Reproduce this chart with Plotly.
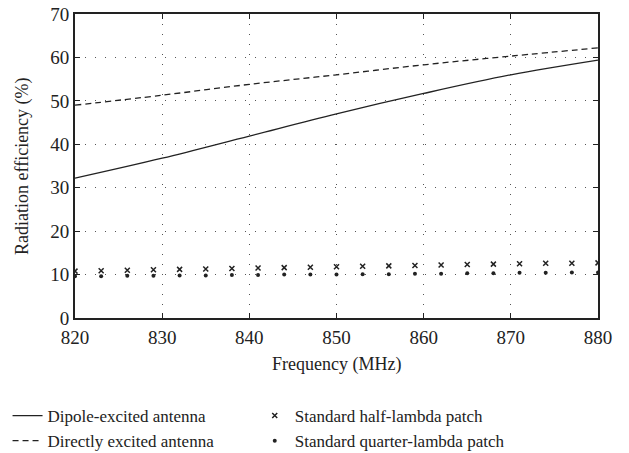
import plotly.graph_objects as go

freq_curve = [820, 830, 840, 850, 860, 870, 880]
dipole = [32.2, 36.8, 41.9, 47.0, 51.7, 56.0, 59.4]
direct = [49.0, 51.3, 53.8, 56.0, 58.3, 60.3, 62.2]

freq_pts = [820, 823, 826, 829, 832, 835, 838, 841, 844, 847, 850, 853, 856, 859, 862, 865, 868, 871, 874, 877, 880]
half = [10.8, 10.9, 11.0, 11.1, 11.2, 11.3, 11.4, 11.5, 11.6, 11.7, 11.8, 11.9, 12.0, 12.1, 12.2, 12.3, 12.4, 12.5, 12.6, 12.6, 12.7]
quarter = [9.6, 9.6, 9.7, 9.7, 9.8, 9.8, 9.9, 9.9, 10.0, 10.0, 10.0, 10.1, 10.1, 10.2, 10.2, 10.3, 10.3, 10.4, 10.4, 10.5, 10.5]

x_title = "Frequency (MHz)"
y_title = "Radiation efficiency (%)"

font = "Liberation Serif, DejaVu Serif, serif"
c = "#222222"

fig = go.Figure()
fig.add_trace(go.Scatter(x=freq_curve, y=dipole, mode="lines", line=dict(color=c, width=1.3, shape="spline"),
                         name="Dipole-excited antenna", legend="legend"))
fig.add_trace(go.Scatter(x=freq_curve, y=direct, mode="lines", line=dict(color=c, width=1.3, dash="6px,4px", shape="spline"),
                         name="Directly excited antenna", legend="legend"))
fig.add_trace(go.Scatter(x=freq_pts, y=half, mode="markers", marker=dict(symbol="x-thin", size=5, color=c, line=dict(width=1.5, color=c)),
                         name="Standard half-lambda patch", legend="legend2"))
fig.add_trace(go.Scatter(x=freq_pts, y=quarter, mode="markers", marker=dict(symbol="circle", size=4, color=c),
                         name="Standard quarter-lambda patch", legend="legend2"))

axis_common = dict(
    showline=True, linecolor=c, linewidth=2, mirror="ticks",
    ticks="inside", ticklen=5, tickcolor=c, tickwidth=1,
    showgrid=True, gridcolor="#555555", griddash="1px,9px", gridwidth=1,
    zeroline=False, tickfont=dict(family=font, size=19, color=c), automargin=False,
)

fig.update_xaxes(range=[820, 880], dtick=10, ticklabelstandoff=1, **axis_common)
fig.update_yaxes(range=[0, 70], dtick=10, **axis_common)

leg_common = dict(orientation="v", xref="container", yref="container", yanchor="top", xanchor="left",
                  tracegroupgap=0, font=dict(family=font, size=17, color=c), bgcolor="rgba(0,0,0,0)")

fig.update_layout(
    width=629, height=453,
    margin=dict(l=75, r=31, t=14, b=135, autoexpand=False),
    plot_bgcolor="white", paper_bgcolor="white",
    font=dict(family=font, size=18, color=c),
    legend=dict(x=0.012, y=1 - 398 / 453, **leg_common),
    legend2=dict(x=0.405, y=1 - 398 / 453, **leg_common),
    showlegend=True,
    annotations=[
        dict(text=x_title, xref="paper", yref="paper", x=0.5, y=-46 / 304, xanchor="center", yanchor="middle",
             showarrow=False, font=dict(family=font, size=18, color=c)),
        dict(text=y_title, xref="paper", yref="paper", x=-53 / 523, y=0.5, xanchor="center", yanchor="middle",
             textangle=-90, showarrow=False, font=dict(family=font, size=18, color=c)),
    ],
)

fig.write_html("out.html")
